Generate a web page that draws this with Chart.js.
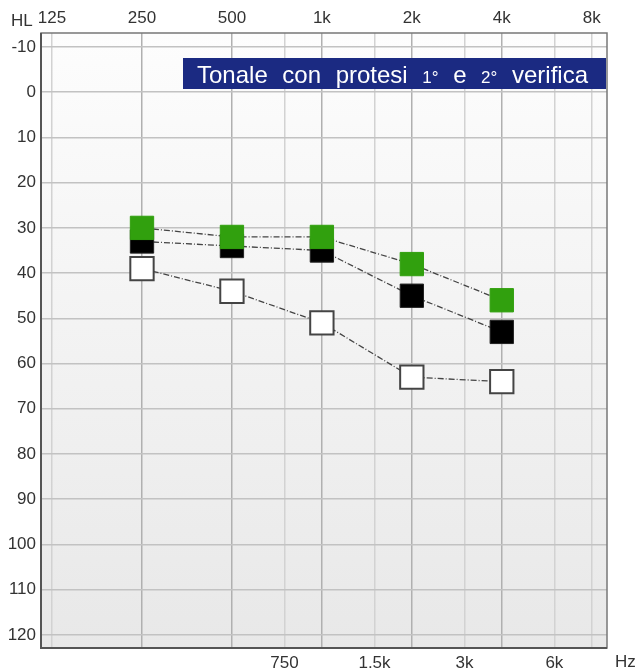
<!DOCTYPE html>
<html>
<head>
<meta charset="utf-8">
<script src="https://cdn.jsdelivr.net/npm/chart.js@4.4.0/dist/chart.umd.min.js"></script>
<style>
  html, body { margin: 0; padding: 0; background: #fff; }
  #wrap { width: 641px; height: 671px; }
</style>
</head>
<body>
<div id="wrap"><canvas id="myChart"></canvas></div>
<script>
// audiogram values (dB HL)
const freqs = [250, 500, 1000, 2000, 4000];
const verifica2 = [30, 32, 32, 38, 46];   // green squares
const verifica1 = [33, 34, 35, 45, 53];   // black squares
const senzaProtesi = [39, 44, 51, 63, 64]; // open squares

const topTicks = [125, 250, 500, 1000, 2000, 4000, 8000];
const bottomTicks = [750, 1500, 3000, 6000];
const dbTicks = [-10, 0, 10, 20, 30, 40, 50, 60, 70, 80, 90, 100, 110, 120];

const allFreqTicks = [...topTicks, ...bottomTicks].sort((a, b) => a - b);
const octaves = [250, 500, 1000, 2000, 4000];

const fmtFreq = (v) => (v >= 1000 ? (v / 1000) + "k" : String(v));
const FONT = "'Liberation Sans', Arial, sans-serif";
const TICK_SIZE = 17;

const toPoints = (vals) => freqs.map((f, i) => ({ x: f, y: vals[i] }));

const bgPlugin = {
  id: "bg",
  beforeDraw(chart) {
    const { ctx, chartArea: a } = chart;
    const g = ctx.createLinearGradient(0, a.top, 0, a.bottom);
    g.addColorStop(0, "#fdfdfd");
    g.addColorStop(1, "#e8e8e8");
    ctx.save();
    ctx.fillStyle = g;
    ctx.fillRect(a.left, a.top, a.right - a.left, a.bottom - a.top);
    ctx.restore();
  },
  afterDraw(chart) {
    const { ctx, chartArea: a } = chart;
    ctx.save();
    // frame
    ctx.strokeStyle = "#777";
    ctx.lineWidth = 1.5;
    ctx.strokeRect(a.left, a.top, a.right - a.left, a.bottom - a.top);
    ctx.strokeStyle = "#555";
    ctx.lineWidth = 2;
    ctx.beginPath();
    ctx.moveTo(a.left, a.top);
    ctx.lineTo(a.left, a.bottom);
    ctx.lineTo(a.right, a.bottom);
    ctx.stroke();

    // HL / Hz
    ctx.fillStyle = "#333";
    ctx.font = TICK_SIZE + "px " + FONT;
    ctx.textBaseline = "bottom";
    ctx.textAlign = "left";
    ctx.fillText("HL", 11, 30);
    ctx.fillText("Hz", 615, 671);

    // title box
    const bx = 183, by = 58, bw = 423, bh = 31;
    ctx.fillStyle = "#1b2a82";
    ctx.fillRect(bx, by, bw, bh);
    const parts = [
      ["Tonale", 24], ["con", 24], ["protesi", 24], ["1°", 17],
      ["e", 24], ["2°", 17], ["verifica", 24]
    ];
    let total = 0;
    parts.forEach(([t, s]) => {
      ctx.font = s + "px " + FONT;
      total += ctx.measureText(t).width;
    });
    const startX = 197, endX = 588;
    const gap = (endX - startX - total) / (parts.length - 1);
    let x = startX;
    ctx.fillStyle = "#fff";
    ctx.textBaseline = "alphabetic";
    parts.forEach(([t, s]) => {
      ctx.font = s + "px " + FONT;
      ctx.fillText(t, x, 83);
      x += ctx.measureText(t).width + gap;
    });
    ctx.restore();
  }
};

const lineStyle = {
  borderColor: "#444",
  borderWidth: 1.3,
  borderDash: [6, 2, 1, 2],
  pointStyle: "rect",
  pointRadius: 16.5,
  pointHoverRadius: 16.5,
  tension: 0,
  showLine: true,
};

let curChart = null;

const init = () => {
  const ctx = document.getElementById("myChart").getContext("2d");

  curChart = new Chart(ctx, {
    type: "scatter",
    data: {
      datasets: [
        Object.assign({}, lineStyle, {
          label: "2° verifica",
          data: toPoints(verifica2),
          pointBackgroundColor: "#31a00e",
          pointBorderColor: "#31a00e",
          pointBorderWidth: 1,
        }),
        Object.assign({}, lineStyle, {
          label: "1° verifica",
          data: toPoints(verifica1),
          pointBackgroundColor: "#000",
          pointBorderColor: "#222",
          pointBorderWidth: 1,
        }),
        Object.assign({}, lineStyle, {
          label: "senza protesi",
          data: toPoints(senzaProtesi),
          pointBackgroundColor: "#fff",
          pointBorderColor: "#444",
          pointBorderWidth: 2,
        }),
      ],
    },
    options: {
      responsive: true,
      maintainAspectRatio: false,
      animation: false,
      events: [],
      layout: { padding: { right: 34, left: 0, top: 0, bottom: 0 } },
      plugins: { legend: { display: false }, tooltip: { enabled: false } },
      scales: {
        x: {
          type: "logarithmic",
          position: "bottom",
          min: 114.8,
          max: 9000,
          afterBuildTicks: (s) => { s.ticks = allFreqTicks.map((v) => ({ value: v })); },
          afterFit: (s) => { s.height = 23; },
          border: { display: false },
          grid: {
            drawTicks: false,
            lineWidth: 1.5,
            color: (c) => (octaves.includes(c.tick && c.tick.value) ? "#b0b0b0" : "#d2d2d2"),
          },
          ticks: {
            autoSkip: false,
            maxRotation: 0,
            padding: 5,
            color: "#333",
            font: { family: FONT, size: TICK_SIZE },
            callback: (v) => (bottomTicks.includes(v) ? fmtFreq(v) : ""),
          },
        },
        x2: {
          type: "logarithmic",
          position: "top",
          min: 114.8,
          max: 9000,
          afterBuildTicks: (s) => { s.ticks = topTicks.map((v) => ({ value: v })); },
          afterFit: (s) => { s.height = 33; },
          border: { display: false },
          grid: { display: false, drawTicks: false },
          ticks: {
            autoSkip: false,
            maxRotation: 0,
            padding: 4,
            color: "#333",
            font: { family: FONT, size: TICK_SIZE },
            callback: (v) => fmtFreq(v),
          },
        },
        y: {
          type: "linear",
          reverse: true,
          min: -13.1,
          max: 122.9,
          afterBuildTicks: (s) => { s.ticks = dbTicks.map((v) => ({ value: v })); },
          afterFit: (s) => { s.width = 41; },
          border: { display: false },
          grid: { drawTicks: false, lineWidth: 1.5, color: "#c2c2c2" },
          ticks: {
            padding: 5,
            color: "#333",
            font: { family: FONT, size: TICK_SIZE },
          },
        },
      },
    },
    plugins: [bgPlugin],
  });
};

window.addEventListener("load", init);
</script>
</body>
</html>
